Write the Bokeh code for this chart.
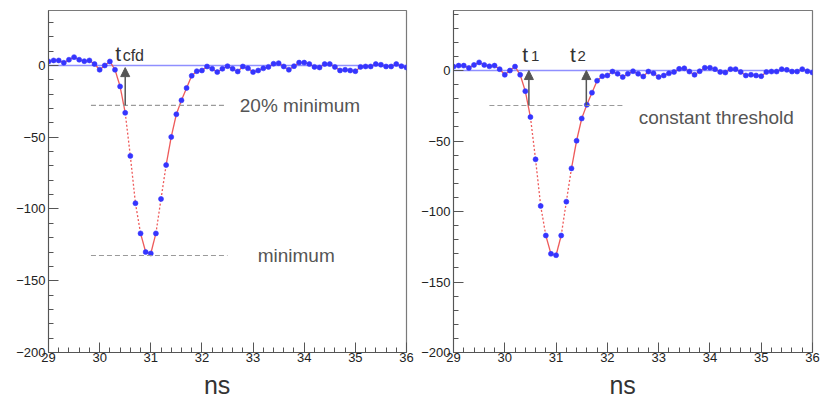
from bokeh.plotting import figure
from bokeh.layouts import row
from bokeh.models import Range1d, SingleIntervalTicker, Arrow, NormalHead, Label
from bokeh.embed import file_html
from bokeh.resources import INLINE

# ---- data -------------------------------------------------------------
time_ns = [29.0, 29.1, 29.2, 29.3, 29.4, 29.5, 29.6, 29.7, 29.8, 29.9,
           30.0, 30.1, 30.2, 30.3, 30.4, 30.5, 30.6, 30.7, 30.8, 30.9,
           31.0, 31.1, 31.2, 31.3, 31.4, 31.5, 31.6, 31.7, 31.8, 31.9,
           32.0, 32.1, 32.2, 32.3, 32.4, 32.5, 32.6, 32.7, 32.8, 32.9,
           33.0, 33.1, 33.2, 33.3, 33.4, 33.5, 33.6, 33.7, 33.8, 33.9,
           34.0, 34.1, 34.2, 34.3, 34.4, 34.5, 34.6, 34.7, 34.8, 34.9,
           35.0, 35.1, 35.2, 35.3, 35.4, 35.5, 35.6, 35.7, 35.8, 35.9,
           36.0]
amplitude = [2.8, 3.5, 3.5, 1.9, 4.0, 5.8, 4.0, 3.0, 3.5, 1.0,
             -3.0, 0.0, 2.8, -3.0, -14.6, -33.0, -63.0, -96.0, -117.0, -130.0,
             -131.0, -117.0, -93.0, -69.4, -49.8, -34.0, -24.3, -15.7, -7.2, -4.0,
             -3.5, -0.7, -2.3, -4.6, -2.3, -0.5, -2.3, -4.2, -0.7, -2.0,
             -4.6, -3.5, -2.0, -1.0, 1.2, 1.6, -0.7, -3.0, -0.5, 2.0,
             2.0, 1.0, -1.0, -1.4, 1.0, 1.0, -1.0, -3.5, -3.0, -3.5,
             -4.0, -1.0, -0.7, -0.7, 1.0, 0.5, -0.7, -0.7, 1.0, -0.5,
             -1.4]

x_ticks_major = 1
y_ticks_major = 50

# left panel annotations (CFD)
cfd_time = 30.50
cfd_level = -27.8
minimum_level = -132.4
cfd_line_span = [29.83, 32.47]
min_line_span = [29.83, 32.50]
label_20pct = "20% minimum"
label_min = "minimum"

# right panel annotations (constant threshold)
thr_level = -24.8
t1_time = 30.47
t2_time = 31.59
thr_line_span = [29.70, 32.32]
label_thr = "constant threshold"

FONT = "Liberation Sans"
STEEP = 20.0


def make_panel(width, height, mb_left, mb_right, mb_top, mb_bottom, label_pad, ymax):
    p = figure(width=width, height=height, x_range=Range1d(29, 36),
               y_range=Range1d(-200, ymax), output_backend="svg",
               toolbar_location=None, min_border_left=mb_left,
               min_border_right=mb_right, min_border_top=mb_top,
               min_border_bottom=mb_bottom)
    p.xgrid.visible = False
    p.ygrid.visible = False
    p.background_fill_color = "white"
    p.border_fill_color = "white"
    p.outline_line_color = "#7a7a7a"
    p.outline_line_width = 1.2

    p.xaxis.ticker = SingleIntervalTicker(interval=x_ticks_major, num_minor_ticks=5)
    p.yaxis.ticker = SingleIntervalTicker(interval=y_ticks_major, num_minor_ticks=5)
    for ax in (p.xaxis, p.yaxis):
        ax.major_tick_in = 10
        ax.major_tick_out = 0
        ax.minor_tick_in = 5
        ax.minor_tick_out = 0
        ax.axis_line_color = "#555555"
        ax.major_tick_line_color = "#555555"
        ax.minor_tick_line_color = "#555555"
        ax.major_label_text_font = FONT
        ax.major_label_text_font_size = "13px"
        ax.major_label_text_color = "#222222"
    p.yaxis.major_label_standoff = 3
    p.xaxis.major_label_standoff = 0
    p.xaxis.axis_label = "ns" + "\u00a0" * label_pad
    p.xaxis.axis_label_text_font = FONT
    p.xaxis.axis_label_text_font_size = "25px"
    p.xaxis.axis_label_text_font_style = "normal"
    p.xaxis.axis_label_text_color = "#333333"
    p.xaxis.axis_label_standoff = 6

    # baseline
    p.line([29, 36], [0, 0], line_color="#8f8fff", line_width=1.6)

    # red connecting line: solid where gentle, dotted where steep
    sx0, sy0, sx1, sy1 = [], [], [], []
    dx0, dy0, dx1, dy1 = [], [], [], []
    for i in range(len(time_ns) - 1):
        a, b = amplitude[i], amplitude[i + 1]
        if abs(b - a) > STEEP:
            dx0.append(time_ns[i]); dy0.append(a); dx1.append(time_ns[i + 1]); dy1.append(b)
        else:
            sx0.append(time_ns[i]); sy0.append(a); sx1.append(time_ns[i + 1]); sy1.append(b)
    p.segment(sx0, sy0, sx1, sy1, line_color="#ee5a5a", line_width=1.3)
    p.segment(dx0, dy0, dx1, dy1, line_color="#ee5a5a", line_width=1.3,
              line_dash="2 2")

    p.scatter(time_ns, amplitude, size=5, fill_color="#3535ff",
              line_color="#3535ff", line_alpha=0.6)
    return p


def dashed(p, span, level):
    p.line(span, [level, level], line_color="#9a9a9a", line_width=1.2,
           line_dash="5 3")


def arrow(p, x, y0, y1):
    p.add_layout(Arrow(end=NormalHead(size=9, fill_color="#555555",
                                      line_color="#555555"),
                       x_start=x, y_start=y0, x_end=x, y_end=y1,
                       line_color="#555555", line_width=1.5))


def label(p, x, y, text, size, color="#333333", baseline="alphabetic"):
    p.add_layout(Label(x=x, y=y, text=text, text_font=FONT,
                       text_font_size=size, text_color=color,
                       text_baseline=baseline, text_align="left"))


# ---- left panel --------------------------------------------------------
left = make_panel(418, 404, 48, 12, 10, 52, 3, 38.3)
dashed(left, cfd_line_span, cfd_level)
dashed(left, min_line_span, minimum_level)
arrow(left, cfd_time, cfd_level, -1.5)
label(left, 30.306, 8.3, "t", "21px")
label(left, 30.45, 6.9, "cfd", "16px")
label(left, 32.74, cfd_level, label_20pct, "19px", "#555555", "middle")
label(left, 33.09, minimum_level, label_min, "19px", "#555555", "middle")

# ---- right panel -------------------------------------------------------
right = make_panel(403, 404, 35, 9, 10, 52, 3, 42.6)
dashed(right, thr_line_span, thr_level)
arrow(right, t1_time, thr_level, 0)
arrow(right, t2_time, thr_level, 0)
label(right, 30.34, 11.3, "t", "21px")
label(right, 30.51, 10.6, "1", "15px")
label(right, 31.27, 11.3, "t", "21px")
label(right, 31.42, 10.6, "2", "15px")
label(right, 32.61, -33.1, label_thr, "19px", "#555555", "middle")

layout = row(left, right)
open("out.html", "w").write(file_html(layout, INLINE))
